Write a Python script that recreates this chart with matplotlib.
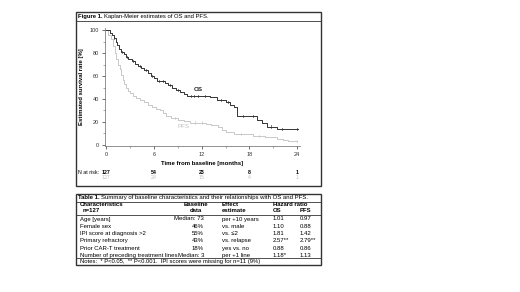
import numpy as np
import matplotlib.pyplot as plt
from matplotlib.patches import Rectangle

plt.rcParams['font.family'] = ['Liberation Sans', 'DejaVu Sans']

# Kaplan-Meier step data
os_t = [0, 0.5, 0.8, 1.0, 1.2, 1.4, 1.6, 1.9, 2.2, 2.5, 2.8, 3.2, 3.6, 4.0, 4.4, 4.8, 5.2, 5.6,
        6.0, 6.4, 7.4, 7.8, 8.3, 8.8, 9.3, 9.8, 10.2, 13.0, 13.9, 15.1, 15.6, 16.0, 16.4,
        19.0, 19.6, 20.2, 21.4, 24.1]
os_s = [100, 98, 96, 93, 90, 87, 84, 81, 79, 77, 75, 73, 71, 69, 67, 65, 63, 60,
        58, 55.5, 54, 52, 50, 48, 46, 44, 42.5, 41.5, 39.5, 37, 35, 33, 25.5,
        22, 19, 16, 13.7, 13.7]
os_cens = [1.0, 2.0, 2.6, 3.4, 4.2, 5.0, 5.8, 6.7, 7.1, 8.0, 9.0, 10.6, 11.0, 11.5, 12.4,
           14.4, 15.3, 17.2, 18.4, 20.7, 22.1, 24.0]

pfs_t = [0, 0.3, 0.6, 0.9, 1.1, 1.3, 1.5, 1.7, 1.9, 2.1, 2.3, 2.5, 2.7, 3.0, 3.4, 3.8, 4.3,
         4.8, 5.3, 5.8, 6.3, 6.8, 7.2, 7.5, 8.2, 9.0, 9.8, 10.5, 12.6, 13.2, 14.0, 14.5,
         15.0, 16.0, 18.4, 20.0, 21.5, 22.2, 22.8, 23.5, 24.0]
pfs_s = [100, 96, 92, 86, 80, 75, 70, 66, 61, 57, 53, 50, 47, 45, 43, 41, 39,
         37, 35, 33, 31.5, 30, 28, 25, 23.5, 22, 21, 19.5, 18.5, 17.5, 16, 13,
         11.5, 9.8, 8, 7, 5.5, 4.5, 3.5, 3, 3]
pfs_cens = [8.6, 11.2, 12.0, 17.0, 19.2, 24.0]

risk_times = [0, 6, 12, 18, 24]
risk_os = [127, 54, 23, 8, 1]
risk_pfs = [127, 28, 15, 4, 1]

rows = ["Age [years]", "Female sex", "IPI score at diagnosis >2", "Primary refractory",
        "Prior CAR-T treatment", "Number of preceding treatment lines"]
baseline = ["Median: 73", "46%", "55%", "43%", "18%", "Median: 3"]
effect = ["per +10 years", "vs. male", "vs. \u22642", "vs. relapse", "yes vs. no", "per +1 line"]
hr_os = ["1.01", "1.10", "1.81", "2.57**", "0.88", "1.18*"]
hr_pfs = ["0.97", "0.88", "1.42", "2.79**", "0.86", "1.13"]

W, H = 520, 292
fig = plt.figure(figsize=(W / 100, H / 100), dpi=100)
fig.patch.set_facecolor('white')


def fx(x):
    return x / W


def fy(y):
    return 1 - y / H


def box(x0, y0, x1, y1, lw=0.8, color='#333333'):
    fig.patches.append(Rectangle((fx(x0), fy(y1)), fx(x1) - fx(x0), fy(y0) - fy(y1),
                                 transform=fig.transFigure, fill=False, lw=lw, ec=color))


def hline(y, x0, x1, lw=0.6, color='#333333'):
    fig.add_artist(plt.Line2D([fx(x0), fx(x1)], [fy(y), fy(y)], transform=fig.transFigure,
                              lw=lw, color=color))


def txt(x, y, s, **kw):
    kw.setdefault('fontsize', 4.2)
    kw.setdefault('va', 'center')
    return fig.text(fx(x), fy(y), s, **kw)


def caption(x, y, bold, rest, size=4.2):
    # bold lead followed by normal text, placed right after the measured bold part
    t = txt(x, y, bold, fontweight='bold', fontsize=size)
    fig.canvas.draw()
    bb = t.get_window_extent()
    txt(bb.x1 + 1.5, y, rest, fontsize=size)


# ---- Figure 1 box ----
box(76, 12, 321, 186, lw=1.0)
hline(21, 76, 321)
caption(78, 16.5, "Figure 1.", "Kaplan-Meier estimates of OS and PFS.")

ax = fig.add_axes([fx(104.5), fy(146), fx(300) - fx(104.5), fy(28) - fy(146)])
ax.step(pfs_t, pfs_s, where='post', color='#c8c8c8', lw=0.7)
ax.step(os_t, os_s, where='post', color='#333333', lw=0.7)


def surv_at(ts, ss, t):
    i = np.searchsorted(ts, t, side='right') - 1
    return ss[max(i, 0)]


for c in os_cens:
    v = surv_at(os_t, os_s, c)
    ax.plot([c, c], [v - 0.9, v + 0.9], color='#333333', lw=0.5)
for c in pfs_cens:
    v = surv_at(pfs_t, pfs_s, c)
    ax.plot([c, c], [v - 0.9, v + 0.9], color='#c8c8c8', lw=0.5)

ax.text(11.6, 48, "OS", fontsize=4.5, fontweight='bold', color='#222222', ha='center', va='center')
ax.text(9.7, 16, "PFS", fontsize=4.5, color='#c0c0c0', ha='center', va='center')

ax.set_xlim(-0.2, 24.35)
ax.set_ylim(-1, 102)
ax.set_xticks(risk_times)
ax.set_xticks([3, 9, 15, 21], minor=True)
ax.set_yticks([0, 20, 40, 60, 80, 100])
ax.set_yticks([10, 30, 50, 70, 90], minor=True)
ax.tick_params(labelsize=4, length=2, width=0.5, pad=2, colors='#333333')
ax.tick_params(which='minor', length=1.2, width=0.5, colors='#888888')
for s in ['top', 'right']:
    ax.spines[s].set_visible(False)
for s in ['left', 'bottom']:
    ax.spines[s].set_linewidth(0.5)
    ax.spines[s].set_color('#666666')
ax.set_xlabel("Time from baseline [months]", fontsize=4.3, fontweight='bold', labelpad=3)
ax.set_ylabel("Estimated survival rate [%]", fontsize=4.3, fontweight='bold', labelpad=4)

# numbers at risk
txt(77.5, 172, "N at risk:", fontsize=3.8)
for t, a, b in zip(risk_times, risk_os, risk_pfs):
    xp = 106 + t * (297 - 106) / 24
    txt(xp, 172, str(a), fontsize=3.8, fontweight='bold', ha='center')
    txt(xp, 177.5, str(b), fontsize=3.8, color='#c0c0c0', ha='center')

# ---- Table 1 ----
TS = 4.3
box(76, 194, 321, 265, lw=1.0)
hline(201.5, 76, 321)
hline(215, 76, 321)
hline(257.5, 76, 321)
caption(78, 197.8, "Table 1.", "Summary of baseline characteristics and their relationships with OS and PFS.",
        size=TS)

txt(80, 204.5, "Characteristics", fontweight='bold', fontsize=TS)
txt(83, 211, "n=127", fontweight='bold', fontsize=TS)
txt(196, 204.5, "Baseline", fontweight='bold', ha='center', fontsize=TS)
txt(196, 211, "data", fontweight='bold', ha='center', fontsize=TS)
txt(222, 204.5, "Effect", fontweight='bold', fontsize=TS)
txt(222, 211, "estimate", fontweight='bold', fontsize=TS)
txt(290, 204.5, "Hazard ratio", fontweight='bold', ha='center', fontsize=TS)
txt(273, 211, "OS", fontweight='bold', fontsize=TS)
txt(300, 211, "PFS", fontweight='bold', fontsize=TS)

row_y = [219, 226.3, 233.6, 240.9, 248.2, 255.3]
for y, r, b, e, o, p in zip(row_y, rows, baseline, effect, hr_os, hr_pfs):
    txt(80, y, r, fontsize=TS)
    txt(204, y, b, ha='right', fontsize=TS)
    txt(222, y, e, fontsize=TS)
    txt(273, y, o, fontsize=TS)
    txt(300, y, p, fontsize=TS)
txt(80, 261.3, "Notes:  * P<0.05,  ** P<0.001.  IPI scores were missing for n=11 (9%)", fontsize=4.2)

fig.savefig("out.png", dpi=100, facecolor='white')
